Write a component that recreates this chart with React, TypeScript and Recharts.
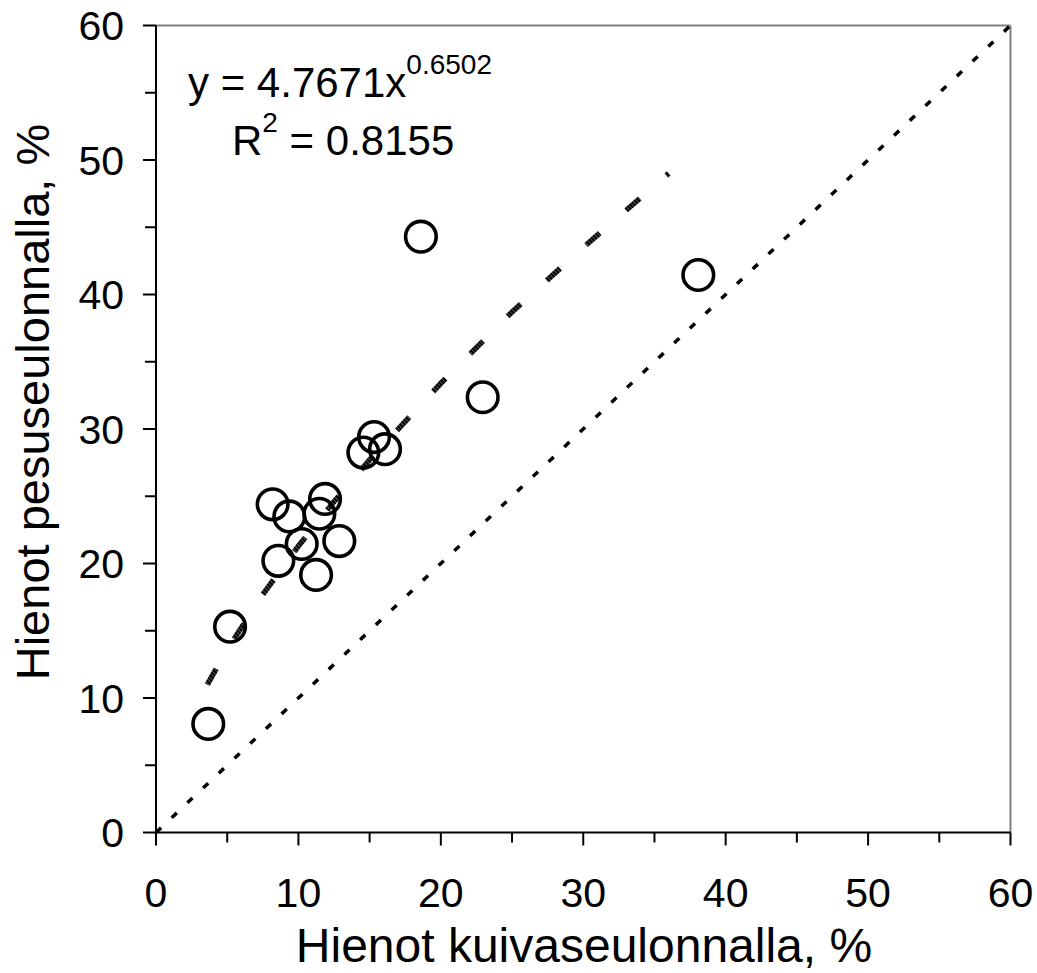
import React from 'react';
import { ScatterChart, Scatter, XAxis, YAxis, ReferenceLine } from 'recharts';

// measured points (kuiva vs pesu)
const dryFines = [3.67, 5.2, 8.19, 8.59, 9.36, 10.23, 11.24, 11.47, 11.87, 12.87, 14.56, 15.31, 16.08, 18.6, 22.94, 38.08];
const washFines = [8.07, 15.3, 24.4, 20.2, 23.5, 21.45, 19.15, 23.7, 24.8, 21.67, 28.25, 29.4, 28.5, 44.3, 32.36, 41.45];

// power trend line y = 4.7671x^0.6502
const trendX = [3.6, 5, 7.5, 10, 12.5, 15, 20, 25, 30, 36];
const trendY = [11.0, 13.6, 17.7, 21.3, 24.6, 27.7, 33.4, 38.7, 43.5, 49.0];

const axisTicks = [0, 5, 10, 15, 20, 25, 30, 35, 40, 45, 50, 55, 60];

const points = dryFines.map((x, i) => ({ x, y: washFines[i] }));
const trend = trendX.map((x, i) => ({ x, y: trendY[i] }));

const FONT = '"Liberation Sans", Arial, sans-serif';

const YTick = ({ x, y, payload }: any) => {
  const major = payload.value % 10 === 0;
  return (
    <g>
      <line x1={x - (major ? 13 : 11)} y1={y} x2={x} y2={y} stroke="#000" strokeWidth={2} />
      {major && (
        <text x={x - 32} y={y} dy="0.355em" textAnchor="end" fontSize={41} fontFamily={FONT} fill="#000">
          {payload.value}
        </text>
      )}
    </g>
  );
};

const XTick = ({ x, y, payload }: any) => {
  const major = payload.value % 10 === 0;
  return (
    <g>
      <line x1={x} y1={y} x2={x} y2={y + (major ? 13 : 10)} stroke="#000" strokeWidth={2} />
      {major && (
        <text x={x} y={y + 74} textAnchor="middle" fontSize={41} fontFamily={FONT} fill="#000">
          {payload.value}
        </text>
      )}
    </g>
  );
};

const Ring = ({ cx, cy }: any) => (
  <circle cx={cx} cy={cy} r={15.3} fill="none" stroke="#000" strokeWidth={3.6} />
);

const NoDot = () => <g />;

const App: React.FC = () => {
  return (
    <div style={{ position: 'absolute', left: 0, top: 0, width: 1037, height: 973 }}>
      <ScatterChart width={1037} height={973} margin={{ top: 25.5, right: 26.5, left: 0, bottom: 0 }}>
        <defs>
          <pattern id="trendHatch" width={3} height={3} patternUnits="userSpaceOnUse" patternTransform="rotate(-45)">
            <rect width={3} height={3} fill="#555" />
            <rect width={2} height={3} fill="#000" />
          </pattern>
        </defs>
        <XAxis
          type="number"
          dataKey="x"
          domain={[0, 60]}
          ticks={axisTicks}
          height={140.5}
          tickSize={0}
          tickMargin={0}
          tickLine={false}
          tick={<XTick />}
          axisLine={{ stroke: '#000', strokeWidth: 2 }}
          interval={0}
        />
        <YAxis
          type="number"
          dataKey="y"
          domain={[0, 60]}
          ticks={axisTicks}
          width={156}
          tickSize={0}
          tickMargin={0}
          tickLine={false}
          tick={<YTick />}
          axisLine={{ stroke: '#000', strokeWidth: 2 }}
          interval={0}
        />
        <ReferenceLine y={60} stroke="#808080" strokeWidth={2} />
        <ReferenceLine x={60} stroke="#808080" strokeWidth={2} />
        <ReferenceLine
          segment={[{ x: 0, y: 0 }, { x: 60, y: 60 }]}
          stroke="#000"
          strokeWidth={3.5}
          strokeDasharray="7 14.6"
        />
        <Scatter
          data={trend}
          shape={<NoDot />}
          line={{ stroke: 'url(#trendHatch)', strokeWidth: 5.5, strokeDasharray: '18 35' }}
          lineType="joint"
          isAnimationActive={false}
        />
        <Scatter data={points} shape={<Ring />} isAnimationActive={false} />
      </ScatterChart>
      <svg
        width={1037}
        height={973}
        style={{ position: 'absolute', left: 0, top: 0, pointerEvents: 'none' }}
      >
        <text x={188} y={97} fontSize={42} fontFamily={FONT} fill="#000">
          y = 4.7671x
          <tspan dy={-23} fontSize={28}>0.6502</tspan>
        </text>
        <text x={232} y={155} fontSize={42} fontFamily={FONT} fill="#000">
          R
          <tspan dy={-23} fontSize={28}>2</tspan>
          <tspan dy={23}> = 0.8155</tspan>
        </text>
        <text x={584} y={962} textAnchor="middle" fontSize={48} fontFamily={FONT} fill="#000">
          Hienot kuivaseulonnalla, %
        </text>
        <text
          x={49}
          y={402}
          textAnchor="middle"
          fontSize={47}
          fontFamily={FONT}
          fill="#000"
          transform="rotate(-90 49 402)"
        >
          Hienot pesuseulonnalla, %
        </text>
      </svg>
    </div>
  );
};

export default App;
